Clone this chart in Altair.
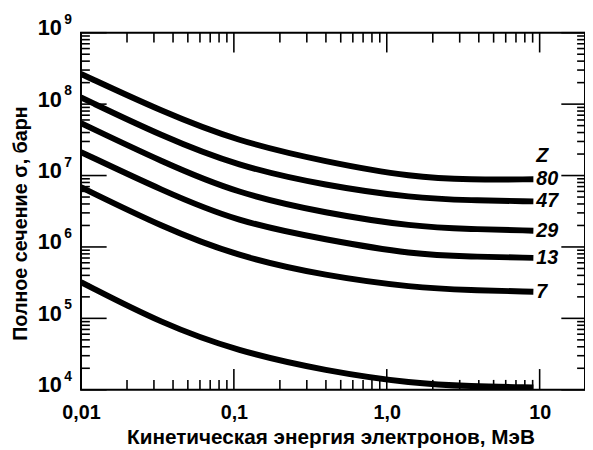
import altair as alt
import pandas as pd

# ---- data ----
energy = [0.01, 0.034, 0.105, 0.4, 1.5, 3.5, 9.1]          # MeV
series_names = ["80", "47", "29", "13", "7", "low"]
sigma_80 = [2.65e8, 7.85e7, 3.03e7, 1.55e7, 9.4e6, 8.75e6, 8.85e6]
sigma_47 = [1.24e8, 3.55e7, 1.36e7, 7.2e6, 4.83e6, 4.49e6, 4.35e6]
sigma_29 = [5.41e7, 1.55e7, 5.61e6, 2.96e6, 1.92e6, 1.78e6, 1.69e6]
sigma_13 = [2.13e7, 6.17e6, 2.25e6, 1.26e6, 7.8e5, 7.33e5, 7.03e5]
sigma_7 = [6.85e6, 1.90e6, 7.4e5, 3.92e5, 2.7e5, 2.48e5, 2.36e5]
sigma_low = [3.22e5, 8.41e4, 3.49e4, 1.83e4, 1.22e4, 1.12e4, 1.08e4]

curve_labels = ["80", "47", "29", "13", "7"]
z_title = "Z"
z_title_sigma = 1.87e7

x_tick_values = [0.01, 0.1, 1, 10]
x_tick_labels = ["0,01", "0,1", "1,0", "10"]
y_tick_exps = [4, 5, 6, 7, 8, 9]

x_title = "Кинетическая энергия электронов, МэВ"
y_title = "Полное сечение σ, барн"

# ---- tables ----
all_series = [sigma_80, sigma_47, sigma_29, sigma_13, sigma_7, sigma_low]
rows = []
for name, vals in zip(series_names, all_series):
    for e, s in zip(energy, vals):
        rows.append({"E": e, "sigma": s, "Z": name})
df = pd.DataFrame(rows)

lab_rows = [{"E": energy[-1], "sigma": z_title_sigma, "t": z_title}]
for name, vals in zip(curve_labels, all_series):
    lab_rows.append({"E": energy[-1], "sigma": vals[-1], "t": name})
df_lab = pd.DataFrame(lab_rows)

y_major = [10.0 ** e for e in y_tick_exps]
y_minor = [k * 10.0 ** e for e in y_tick_exps[:-1] for k in range(2, 10)]
x_minor = [k * 10.0 ** e for e in (-2, -1, 0) for k in range(2, 10)]

df_exp = pd.DataFrame({"E": [x_tick_values[0]] * len(y_tick_exps),
                       "sigma": y_major,
                       "t": [str(e) for e in y_tick_exps]})

FONT = "Liberation Sans"
W, H = 511, 362

xscale = alt.Scale(type="log", domain=[0.01, 19.8], nice=False)
yscale = alt.Scale(type="log", domain=[1e4, 1e9], nice=False)

x_expr = " : ".join(
    f"abs(datum.value - {v}) < {v}*0.01 ? '{l}'" for v, l in zip(x_tick_values, x_tick_labels)
) + " : ''"

x_axis = alt.Axis(
    orient="bottom", values=x_tick_values, labelExpr=x_expr, ticks=False, tickSize=0,
    domain=False, grid=False, labelFont=FONT, labelFontSize=20, labelFontWeight="bold",
    labelColor="black", labelPadding=13, labelFlush=False, labelOverlap=False,
    title=x_title, titleFont=FONT, titleFontSize=21, titleFontWeight="bold",
    titleColor="black", titleX=253, titleY=54, titleBaseline="alphabetic",
    titleAlign="center",
)
y_axis = alt.Axis(
    orient="left", values=y_major, labelExpr="'10'", ticks=False, tickSize=0,
    domain=False, grid=False, labelFont=FONT, labelFontSize=22, labelFontWeight="bold",
    labelColor="black", labelPadding=20, labelFlush=False, labelOverlap=False,
    labelBaseline="middle", labelOffset=-5,
    title=y_title, titleFont=FONT, titleFontSize=20, titleFontWeight="bold",
    titleColor="black", titleAngle=270, titleX=-61, titleY=193,
    titleBaseline="middle", titleAlign="center",
)

X = alt.X("E:Q", scale=xscale, axis=x_axis)
Y = alt.Y("sigma:Q", scale=yscale, axis=y_axis)

curves = alt.Chart(df).mark_line(
    color="black", strokeWidth=6, interpolate="basis", clip=True, strokeCap="butt"
).encode(x=X, y=Y, detail="Z:N")

labels = alt.Chart(df_lab).mark_text(
    align="left", baseline="middle", dx=3, font=FONT, fontSize=20,
    fontStyle="italic", fontWeight="bold", color="black",
).encode(x=X, y=Y, text="t:N")

exponents = alt.Chart(df_exp).mark_text(
    align="left", baseline="middle", dx=-17, dy=-13, font=FONT, fontSize=14,
    fontWeight="bold", color="black",
).encode(x=X, y=Y, text="t:N")


def xticks(values, side, length):
    base = alt.Chart(pd.DataFrame({"E": values})).mark_rule(color="black", strokeWidth=1.6)
    if side == "bottom":
        ys = dict(y=alt.value(H), y2=alt.value(H - length))
    else:
        ys = dict(y=alt.value(0), y2=alt.value(length))
    return base.encode(x=X, **ys)


def yticks(values, side, length):
    base = alt.Chart(pd.DataFrame({"sigma": values})).mark_rule(color="black", strokeWidth=1.6)
    if side == "left":
        xs = dict(x=alt.value(0), x2=alt.value(length))
    else:
        xs = dict(x=alt.value(W), x2=alt.value(W - length))
    return base.encode(y=Y, **xs)


layers = [
    curves,
    xticks(x_tick_values, "bottom", 21),
    xticks(x_minor, "bottom", 10),
    xticks(x_tick_values, "top", 20),
    xticks(x_minor, "top", 10),
    yticks(y_major, "left", 26),
    yticks(y_minor, "left", 9),
    yticks(y_major, "right", 24),
    yticks(y_minor, "right", 8),
    labels,
    exponents,
]

chart = alt.layer(*layers).properties(
    width=W,
    height=H,
    autosize=alt.AutoSizeParams(type="none"),
    padding={"left": 74, "top": 22, "right": 0, "bottom": 58},
    background="white",
).configure_view(stroke="black", strokeWidth=2)

chart.save("out.html", embed_options={"renderer": "svg", "actions": False})
